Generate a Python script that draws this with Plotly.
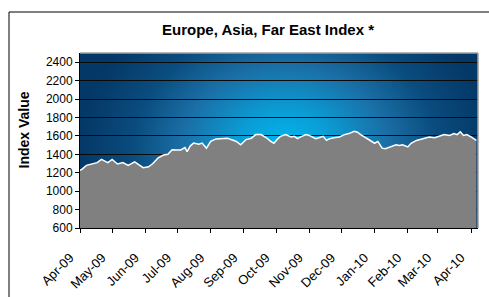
import base64
import plotly.graph_objects as go

# ---- data ----
dates = [
    "2009-04-01", "2009-04-03", "2009-04-07", "2009-04-13", "2009-04-17", "2009-04-21",
    "2009-04-27", "2009-05-01", "2009-05-06", "2009-05-11", "2009-05-16", "2009-05-22",
    "2009-05-27", "2009-05-30", "2009-06-04", "2009-06-08", "2009-06-13", "2009-06-18",
    "2009-06-22", "2009-06-26", "2009-06-30", "2009-07-04", "2009-07-08", "2009-07-10",
    "2009-07-13", "2009-07-16", "2009-07-21", "2009-07-24", "2009-07-28", "2009-08-01",
    "2009-08-06", "2009-08-12", "2009-08-17", "2009-08-20", "2009-08-25", "2009-08-29",
    "2009-09-03", "2009-09-08", "2009-09-12", "2009-09-17", "2009-09-22", "2009-09-26",
    "2009-09-29", "2009-10-02", "2009-10-05", "2009-10-10", "2009-10-15", "2009-10-18",
    "2009-10-21", "2009-10-24", "2009-10-29", "2009-11-01", "2009-11-04", "2009-11-07",
    "2009-11-10", "2009-11-14", "2009-11-17", "2009-11-20", "2009-11-24", "2009-11-29",
    "2009-12-04", "2009-12-08", "2009-12-13", "2009-12-16", "2009-12-19", "2009-12-24",
    "2009-12-29", "2010-01-01", "2010-01-04", "2010-01-08", "2010-01-11", "2010-01-16",
    "2010-01-21", "2010-01-24", "2010-01-27", "2010-02-01", "2010-02-04", "2010-02-09",
    "2010-02-13", "2010-02-18", "2010-02-21", "2010-02-26", "2010-03-02", "2010-03-07",
    "2010-03-12", "2010-03-16", "2010-03-19", "2010-03-22", "2010-03-25", "2010-03-28",
    "2010-04-01", "2010-04-04", "2010-04-06",
]
index_values = [
    1225, 1240, 1280, 1300, 1310, 1345,
    1310, 1345, 1295, 1310, 1280, 1318,
    1280, 1255, 1265, 1300, 1362, 1392,
    1400, 1450, 1448, 1448, 1473, 1430,
    1492, 1522, 1510, 1522, 1467, 1540,
    1567, 1575, 1575, 1560, 1540, 1503,
    1560, 1575, 1614, 1614, 1580, 1540,
    1520, 1560, 1595, 1614, 1589, 1595,
    1570, 1589, 1614, 1605, 1589, 1570,
    1580, 1595, 1551, 1570, 1580, 1589,
    1614, 1625, 1651, 1640, 1614, 1580,
    1540, 1520, 1540, 1467, 1460, 1480,
    1503, 1495, 1503, 1480, 1520, 1551,
    1565, 1575, 1589, 1580, 1595, 1614,
    1605, 1625, 1614, 1645, 1605, 1614,
    1589, 1570, 1551,
]
tick_dates = [
    "2009-04-01", "2009-05-01", "2009-06-01", "2009-07-01", "2009-08-01", "2009-09-01",
    "2009-10-01", "2009-11-01", "2009-12-01", "2010-01-01", "2010-02-01", "2010-03-01",
    "2010-04-01",
]
tick_labels = [
    "Apr-09", "May-09", "Jun-09", "Jul-09", "Aug-09", "Sep-09", "Oct-09", "Nov-09",
    "Dec-09", "Jan-10", "Feb-10", "Mar-10", "Apr-10",
]
y_ticks = [600, 800, 1000, 1200, 1400, 1600, 1800, 2000, 2200, 2400]

# ---- radial gradient background (decoration) ----
svg = """<svg xmlns='http://www.w3.org/2000/svg' width='398' height='175' viewBox='0 0 398 175' preserveAspectRatio='none'>
<defs><radialGradient id='g' gradientUnits='userSpaceOnUse' cx='205' cy='95' r='205'
 gradientTransform='translate(205 95) scale(1 0.8) translate(-205 -95)'>
<stop offset='0' stop-color='#00b8f0'/>
<stop offset='0.22' stop-color='#0a9ed6'/>
<stop offset='0.5' stop-color='#1a6fa6'/>
<stop offset='0.74' stop-color='#0a4c7e'/>
<stop offset='1' stop-color='#043867'/>
</radialGradient></defs>
<rect x='0' y='0' width='398' height='175' fill='url(#g)'/>
</svg>"""
bg_uri = "data:image/svg+xml;base64," + base64.b64encode(svg.encode()).decode()

FONT = "Liberation Sans, Arial, sans-serif"

fig = go.Figure()
fig.add_trace(go.Scatter(
    x=dates, y=index_values, mode="lines",
    line=dict(color="white", width=1.5),
    fill="tozeroy", fillcolor="#808080",
    hoverinfo="x+y", showlegend=False,
))

fig.update_layout(
    width=489, height=297,
    margin=dict(l=80, r=11, t=53, b=69, autoexpand=False),
    paper_bgcolor="white",
    plot_bgcolor="rgba(0,0,0,0)",
    font=dict(family=FONT, color="black", size=12),
    images=[dict(source=bg_uri, xref="paper", yref="paper", x=0, y=1,
                 sizex=1, sizey=1, xanchor="left", yanchor="top",
                 sizing="stretch", layer="below")],
    xaxis=dict(
        type="date", range=["2009-04-01", "2010-04-07 12:00"],
        tickvals=tick_dates, ticktext=tick_labels, tickangle=-45,
        ticks="outside", ticklen=4, tickcolor="black",
        showline=True, linecolor="black", linewidth=1,
        showgrid=False, zeroline=False, automargin=False,
        tickfont=dict(size=13, family=FONT),
        ticklabelstandoff=12, ticklabelshift=-10,
    ),
    yaxis=dict(
        range=[600, 2500], tickvals=y_ticks,
        ticks="outside", ticklen=4, tickcolor="black",
        showline=True, linecolor="black", linewidth=1,
        showgrid=True, gridcolor="#0a0a0a", gridwidth=1,
        zeroline=False, automargin=False, tickfont=dict(size=12, family=FONT),
    ),
    shapes=[
        # outer chart frame
        dict(type="rect", xref="paper", yref="paper",
             x0=(9 - 80) / 398, x1=(495 - 80) / 398,
             y0=(228 - 305) / 175, y1=(228 - 12) / 175,
             line=dict(color="black", width=1), fillcolor="rgba(0,0,0,0)", layer="below"),
        # plot-area border (top/right in gray)
        dict(type="line", xref="paper", yref="paper", x0=0, x1=1, y0=1, y1=1,
             line=dict(color="#a0a0a0", width=1.5)),
        dict(type="line", xref="paper", yref="paper", x0=1, x1=1, y0=0, y1=1,
             line=dict(color="#a0a0a0", width=1.5)),
    ],
    annotations=[
        dict(text="<b>Europe, Asia, Far East Index *</b>", xref="paper", yref="paper",
             x=(268 - 80) / 398, y=(228 - 30) / 175, xanchor="center", yanchor="middle",
             showarrow=False, font=dict(size=15, family=FONT, color="black")),
        dict(text="<b>Index Value</b>", xref="paper", yref="paper",
             x=(23 - 80) / 398, y=(228 - 129.5) / 175, xanchor="center", yanchor="middle",
             textangle=-90, showarrow=False, font=dict(size=14, family=FONT, color="black")),
    ],
)

fig.write_html(
    "out.html",
    config={"displayModeBar": False},
    post_script="document.body.style.margin='0';document.body.style.overflow='hidden';",
)
